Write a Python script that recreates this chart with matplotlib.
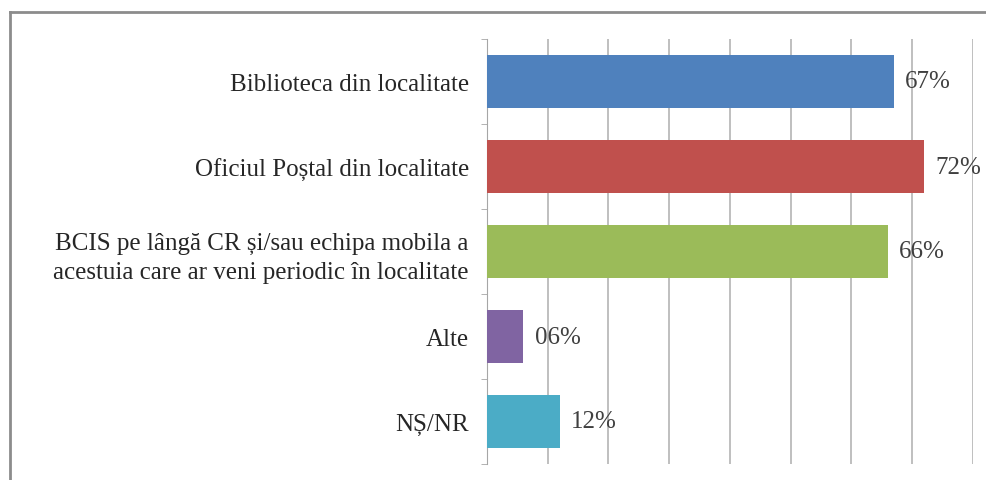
import matplotlib.pyplot as plt
from matplotlib.lines import Line2D
import numpy as np

categorii = ["Biblioteca din localitate",
             "Oficiul Poștal din localitate",
             "BCIS pe lângă CR și/sau echipa mobila a\nacestuia care ar veni periodic în localitate",
             "Alte",
             "NȘ/NR"]
procente = [67, 72, 66, 6, 12]
culori = ["#4F81BD", "#C0504D", "#9BBB59", "#8064A2", "#4BACC6"]

plt.rcParams['font.family'] = ['Liberation Serif', 'DejaVu Serif']

fig = plt.figure(figsize=(9.87, 4.81), dpi=100)
ax = fig.add_axes([487 / 987, 1 - 465 / 481, (973 - 487) / 987, (465 - 40) / 481])

y = np.arange(len(categorii))
ax.barh(y, procente, height=0.63, color=culori, zorder=3)

for yi, v in zip(y, procente):
    ax.annotate("{:02d}%".format(v), (v, yi), xytext=(8, 0), textcoords="offset points",
                va="center", ha="left", fontsize=18, color="#404040")

ax.set_xlim(0, 80)
ax.set_ylim(len(categorii) - 0.5, -0.5)
ax.set_xticks(np.arange(0, 81, 10))
ax.set_xticklabels([])
ax.tick_params(axis="x", length=0)
ax.grid(axis="x", color="#ADADAD", linewidth=1.1, zorder=0)

ax.set_yticks(y)
ax.set_yticklabels(categorii, fontsize=18, color="#262626", multialignment="center",
                   linespacing=1.4)
ax.set_yticks(np.arange(-0.5, len(categorii)), minor=True)
ax.tick_params(axis="y", which="major", length=0, pad=13)
ax.tick_params(axis="y", which="minor", length=4, color="#A6A6A6")

for s in ["top", "right", "bottom"]:
    ax.spines[s].set_visible(False)
ax.spines["left"].set_color("#A6A6A6")

# chenarul exterior
fig.add_artist(Line2D([10 / 987, 10 / 987], [0, 1 - 13 / 481], color="#8C8C8C", linewidth=2))
fig.add_artist(Line2D([10 / 987, 1], [1 - 13 / 481, 1 - 13 / 481], color="#8C8C8C", linewidth=2))

fig.savefig("out.png", dpi=100)
